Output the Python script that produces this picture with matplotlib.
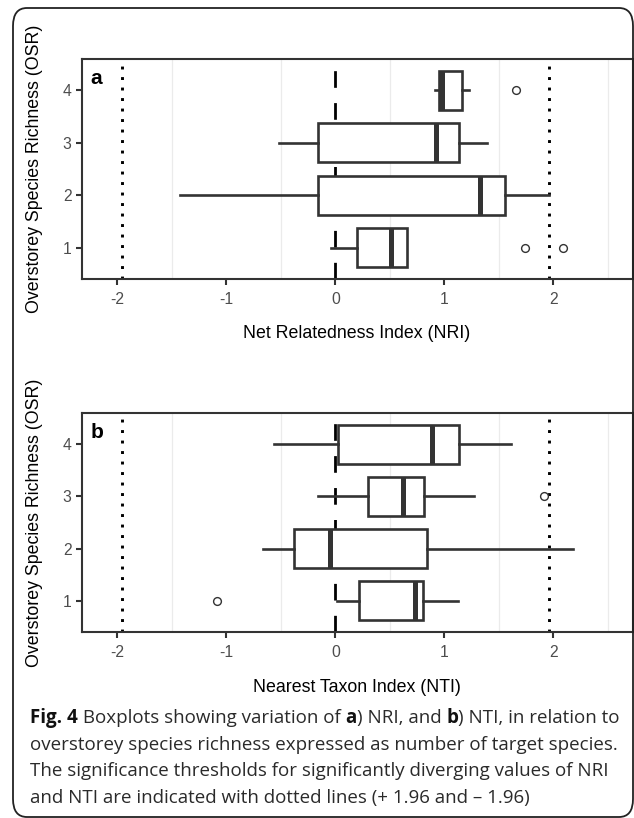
import matplotlib
matplotlib.use("Agg")
import matplotlib.pyplot as plt
from matplotlib.patches import FancyBboxPatch

# ---------------- data ----------------
osr = [1, 2, 3, 4]

# Panel a: Net Relatedness Index (NRI)
nri_whislo = [-0.04, -1.43, -0.52, 0.91]
nri_q1     = [0.20, -0.16, -0.16, 0.95]
nri_med    = [0.51, 1.33, 0.92, 0.98]
nri_q3     = [0.66, 1.56, 1.13, 1.16]
nri_whishi = [0.66, 1.96, 1.39, 1.23]
nri_fliers = [[1.74, 2.09], [], [], [1.66]]

# Panel b: Nearest Taxon Index (NTI)
nti_whislo = [0.01, -0.66, -0.16, -0.56]
nti_q1     = [0.22, -0.38, 0.30, 0.02]
nti_med    = [0.73, -0.05, 0.62, 0.89]
nti_q3     = [0.80, 0.84, 0.81, 1.13]
nti_whishi = [1.12, 2.18, 1.27, 1.61]
nti_fliers = [[-1.09], [], [1.91], []]

thresholds = [-1.96, 1.96]
xticks = [-2, -1, 0, 1, 2]
minor_grid = [-1.5, -0.5, 0.5, 1.5, 2.5]

panel_labels = ["a", "b"]
xlabels = ["Net Relatedness Index (NRI)", "Nearest Taxon Index (NTI)"]
ylabel = "Overstorey Species Richness (OSR)"

caption_lines = [
    [("Fig. 4", True), (" Boxplots showing variation of ", False), ("a", True),
     (") NRI, and ", False), ("b", True), (") NTI, in relation to", False)],
    [("overstorey species richness expressed as number of target species.", False)],
    [("The significance thresholds for significantly diverging values of NRI", False)],
    [("and NTI are indicated with dotted lines (+ 1.96 and \u2013 1.96)", False)],
]

# ---------------- layout ----------------
W, H = 634, 818
fig = plt.figure(figsize=(W / 100, H / 100), dpi=100)
plt.rcParams['font.family'] = ['Liberation Sans', 'DejaVu Sans']

def fx(px):
    return px / W

def fy(py):
    return 1 - py / H

# figure frame
frame = FancyBboxPatch((fx(13), fy(817)), fx(633) - fx(13), fy(8) - fy(817),
                       boxstyle="round,pad=0,rounding_size=0.022",
                       transform=fig.transFigure, fill=False,
                       edgecolor="#222222", linewidth=1.3, zorder=0)
fig.patches.append(frame)

GRAY20 = "#333333"
panels = [
    dict(top=59, bottom=279, whislo=nri_whislo, q1=nri_q1, med=nri_med, q3=nri_q3,
         whishi=nri_whishi, fliers=nri_fliers, xlaby=333),
    dict(top=413, bottom=632, whislo=nti_whislo, q1=nti_q1, med=nti_med, q3=nti_q3,
         whishi=nti_whishi, fliers=nti_fliers, xlaby=687),
]

for i, p in enumerate(panels):
    ax = fig.add_axes([fx(82), fy(p["bottom"]), fx(633) - fx(82),
                       fy(p["top"]) - fy(p["bottom"])])
    ax.set_xlim(-2.325, 2.73)
    ax.set_ylim(0.4, 4.6)
    for g in minor_grid:
        ax.axvline(g, color="#EBEBEB", lw=0.9, zorder=0)
    ax.axvline(0, color="black", lw=2.0, linestyle=(0, (6, 5.5)), zorder=1)
    for t in thresholds:
        ax.axvline(t, color="black", lw=2.1, linestyle=(0, (1, 2.6)),
                   dash_capstyle="butt", zorder=1)

    stats = []
    for k in range(len(osr)):
        stats.append(dict(med=p["med"][k], q1=p["q1"][k], q3=p["q3"][k],
                          whislo=p["whislo"][k], whishi=p["whishi"][k],
                          fliers=p["fliers"][k]))
    ax.bxp(stats, positions=osr, widths=0.75, vert=False, showcaps=False,
           patch_artist=True, zorder=3,
           boxprops=dict(facecolor="white", edgecolor=GRAY20, linewidth=1.9),
           whiskerprops=dict(color=GRAY20, linewidth=1.9),
           medianprops=dict(color=GRAY20, linewidth=3.6, solid_capstyle="butt"),
           flierprops=dict(marker="o", markersize=5.6, markerfacecolor="none",
                           markeredgecolor=GRAY20, markeredgewidth=1.0))

    ax.set_xticks(xticks)
    ax.set_xticklabels([str(v) for v in xticks])
    ax.set_yticks(osr)
    ax.set_yticklabels([str(v) for v in osr])
    ax.tick_params(axis="both", length=4.5, width=1.5, color=GRAY20,
                   labelcolor="#4D4D4D", labelsize=11.3)
    ax.tick_params(axis="x", pad=5)
    ax.tick_params(axis="y", pad=3)
    for s in ax.spines.values():
        s.set_color(GRAY20)
        s.set_linewidth(1.5)
    ax.text(0.015, 0.955, panel_labels[i], transform=ax.transAxes, fontsize=15,
            fontweight="bold", ha="left", va="top", color="black")

    fig.text(fx(357), fy(p["xlaby"]), xlabels[i], ha="center", va="center",
             fontsize=12.8, color="black")
    fig.text(fx(35), fy((p["top"] + p["bottom"]) / 2), ylabel, rotation=90,
             ha="center", va="center", fontsize=12.8, color="black")

# ---------------- caption ----------------
renderer = fig.canvas.get_renderer()
cap_y = [718, 745, 771, 798]
cap_size = 13.5
for line, yc in zip(caption_lines, cap_y):
    x = fx(30)
    for txt, bold in line:
        t = fig.text(x, fy(yc), txt, ha="left", va="center", fontsize=cap_size,
                     family=["Open Sans", "DejaVu Sans"],
                     fontweight="bold" if bold else "normal",
                     color="#111111" if bold else "#2a2a2a")
        bb = t.get_window_extent(renderer=renderer)
        x += bb.width / (W)

fig.savefig("out.png", dpi=100)
